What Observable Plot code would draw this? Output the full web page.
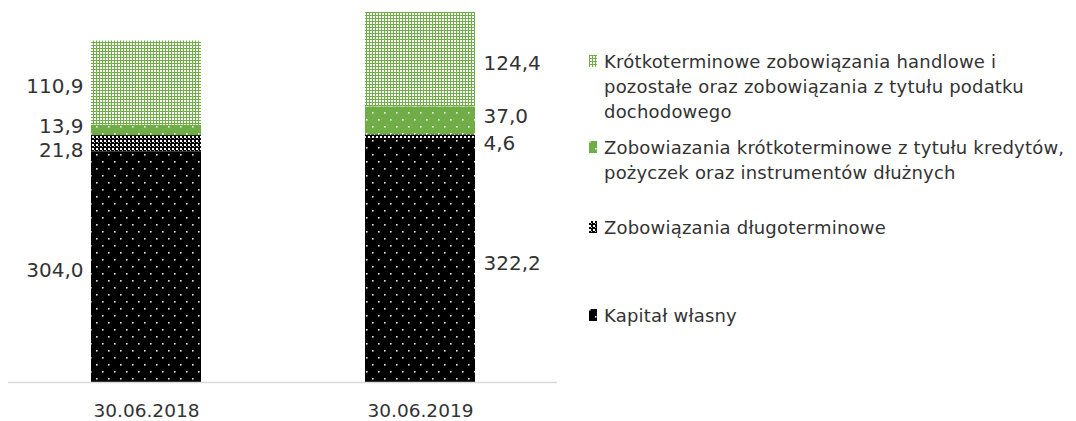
<!DOCTYPE html>
<html>
<head>
<meta charset="utf-8">
<script src="https://cdn.jsdelivr.net/npm/d3@7"></script>
<script src="https://cdn.jsdelivr.net/npm/@observablehq/plot@0.6"></script>
<style>
  html, body { margin: 0; padding: 0; background: #fff; }
  #wrap { position: relative; width: 1076px; height: 421px; font-family: "DejaVu Sans", Verdana, sans-serif; color: #333; overflow: hidden; }
  #chart { position: absolute; left: 0; top: 0; }
  .item { position: absolute; left: 589px; font-size: 18px; letter-spacing: 0.2px; line-height: 25px; display: flex; align-items: flex-start; white-space: nowrap; }
  .item svg { flex: none; margin-top: 6px; margin-right: 7px; }
</style>
</head>
<body>
<svg width="0" height="0" style="position:absolute">
  <defs>
    <pattern id="p-black" width="12" height="14" patternUnits="userSpaceOnUse">
      <rect width="12" height="14" fill="#000"/>
      <rect x="0" y="0" width="1.6" height="1.6" fill="#fff" opacity="0.9"/>
      <rect x="6" y="7" width="1.6" height="1.6" fill="#fff" opacity="0.9"/>
    </pattern>
    <pattern id="p-cross" width="4" height="4" patternUnits="userSpaceOnUse">
      <rect width="4" height="4" fill="#000"/>
      <rect x="0" y="0" width="2" height="2" fill="#fff"/>
      <rect x="2" y="2" width="1" height="1" fill="#bbb"/>
    </pattern>
    <pattern id="p-green" width="12" height="14" patternUnits="userSpaceOnUse">
      <rect width="12" height="14" fill="#70ad47"/>
      <rect x="0" y="0" width="1.6" height="1.6" fill="#fff" opacity="0.9"/>
      <rect x="6" y="7" width="1.6" height="1.6" fill="#fff" opacity="0.9"/>
    </pattern>
    <pattern id="p-light" width="3" height="3" patternUnits="userSpaceOnUse">
      <rect width="3" height="3" fill="#fff"/>
      <rect x="0" y="0" width="3" height="1" fill="#70ad47"/>
      <rect x="0" y="0" width="1" height="3" fill="#70ad47"/>
    </pattern>
  </defs>
</svg>
<div id="wrap">
  <div id="chart"></div>
  <div id="legend"></div>
</div>
<script>
const dates = ["30.06.2018", "30.06.2019"];
const seriesNames = [
  "Kapitał własny",
  "Zobowiązania długoterminowe",
  "Zobowiazania krótkoterminowe z tytułu kredytów, pożyczek oraz instrumentów dłużnych",
  "Krótkoterminowe zobowiązania handlowe i pozostałe oraz zobowiązania z tytułu podatku dochodowego"
];
const kapitalWlasny = [304.0, 322.2];
const zobDlugoterminowe = [21.8, 4.6];
const zobKredyty = [13.9, 37.0];
const zobHandlowe = [110.9, 124.4];

const legendLines = [
  ["Krótkoterminowe zobowiązania handlowe i", "pozostałe oraz zobowiązania z tytułu podatku", "dochodowego"],
  ["Zobowiazania krótkoterminowe z tytułu kredytów,", "pożyczek oraz instrumentów dłużnych"],
  ["Zobowiązania długoterminowe"],
  ["Kapitał własny"]
];

const patterns = ["url(#p-black)", "url(#p-cross)", "url(#p-green)", "url(#p-light)"];
const valuesBySeries = [kapitalWlasny, zobDlugoterminowe, zobKredyty, zobHandlowe];

const rows = [];
dates.forEach((date, i) => {
  seriesNames.forEach((s, j) => {
    rows.push({date, series: s, value: valuesBySeries[j][i]});
  });
});

const fmt = v => v.toFixed(1).replace(".", ",");
const seriesDy = [3, 7, -4, 4];

const labelMarks = [];
dates.forEach((date, i) => {
  seriesNames.forEach((s, j) => {
    labelMarks.push(Plot.text(rows, Plot.stackY({
      filter: d => d.date === date,
      x: "date",
      y: "value",
      z: "series",
      text: d => d.series === s ? fmt(d.value) : "",
      textAnchor: i === 0 ? "end" : "start",
      dx: i === 0 ? -63 : 63,
      dy: seriesDy[j],
      fill: "#333",
      fontSize: 20
    })));
  });
});

const chart = Plot.plot({
  width: 570,
  height: 421,
  marginLeft: 8,
  marginRight: 13,
  marginTop: 12,
  marginBottom: 39,
  style: {fontFamily: "DejaVu Sans, Verdana, sans-serif", fontSize: "18px", color: "#333", background: "#fff"},
  x: {domain: dates, paddingInner: 0.6, paddingOuter: 0.3, label: null},
  y: {domain: [0, 488.2], axis: null},
  color: {domain: seriesNames, range: patterns},
  marks: [
    Plot.barY(rows, Plot.stackY({x: "date", y: "value", z: "series", fill: "series"})),
    Plot.ruleY([0], {stroke: "#d9d9d9", strokeWidth: 1.5}),
    Plot.axisX({tickSize: 0, tickPadding: 21, fontSize: 18.5, fill: "#333"}),
    ...labelMarks
  ]
});
document.getElementById("chart").appendChild(chart);

// Legend (order as in the reference: top series first)
const legendTops = [49, 135, 215, 303];
const legend = document.getElementById("legend");
const order = [3, 2, 1, 0];
order.forEach((si, k) => {
  const div = document.createElement("div");
  div.className = "item";
  div.style.top = legendTops[k] + "px";
  div.innerHTML = `<svg width="8" height="12"><rect width="8" height="12" fill="${patterns[si]}"/></svg><span>${legendLines[k].join("<br>")}</span>`;
  legend.appendChild(div);
});
</script>
</body>
</html>
